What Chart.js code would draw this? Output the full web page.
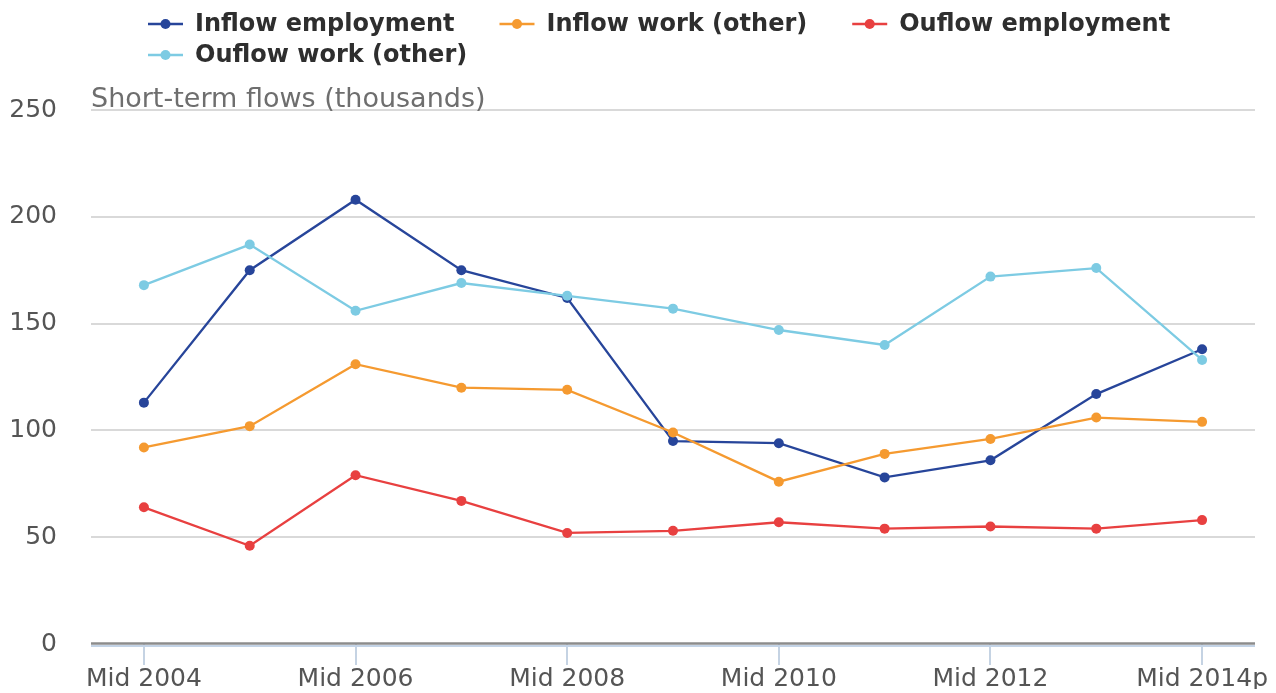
<!DOCTYPE html>
<html><head><meta charset="utf-8">
<script src="https://cdn.jsdelivr.net/npm/chart.js@4"></script>
<style>html,body{margin:0;padding:0;background:#fff;overflow:hidden;}</style>
</head><body>
<canvas id="c" width="1276" height="693"></canvas>
<script>
const categories = ['Mid 2004','Mid 2005','Mid 2006','Mid 2007','Mid 2008','Mid 2009','Mid 2010','Mid 2011','Mid 2012','Mid 2013','Mid 2014p'];
const inflowEmployment = [113,175,208,175,162,95,94,78,86,117,138];
const inflowWorkOther = [92,102,131,120,119,99,76,89,96,106,104];
const outflowEmployment = [64,46,79,67,52,53,57,54,55,54,58];
const outflowWorkOther = [168,187,156,169,163,157,147,140,172,176,133];
const seriesNames = ['Inflow employment','Inflow work (other)','Ouflow employment','Ouflow work (other)'];
const seriesColors = ['#27459a','#f59a30','#e84040','#7dcbe3'];
const yTicks = [0,50,100,150,200,250];
const yTitle = 'Short-term flows (thousands)';

const FONT = '"DejaVu Sans", sans-serif';

const legendPlugin = {
  id: 'customLegend',
  afterDraw(chart) {
    const ctx = chart.ctx;
    ctx.save();
    ctx.font = 'bold 24px ' + FONT;
    ctx.textBaseline = 'middle';
    const startX = 148, rowH = 31;
    let x = startX, y = 24;
    chart.data.datasets.forEach(ds => {
      const tw = ctx.measureText(ds.label).width;
      const w = 35 + 13 + tw;
      if (x > startX && x + w > chart.width - 10) { x = startX; y += rowH; }
      ctx.strokeStyle = ds.borderColor;
      ctx.lineWidth = 2.5;
      ctx.beginPath(); ctx.moveTo(x, y); ctx.lineTo(x + 35, y); ctx.stroke();
      ctx.fillStyle = ds.borderColor;
      ctx.beginPath(); ctx.arc(x + 17.5, y, 5, 0, Math.PI * 2); ctx.fill();
      ctx.fillStyle = '#2e2e2e';
      ctx.fillText(ds.label, x + 47, y + 1);
      x += w + 44;
    });
    ctx.restore();
  }
};

const axisPlugin = {
  id: 'axisDecor',
  beforeDatasetsDraw(chart) {
    const ctx = chart.ctx, a = chart.chartArea;
    const y0 = chart.scales.y.getPixelForValue(0);
    ctx.save();
    ctx.strokeStyle = '#c3d3e6'; ctx.lineWidth = 2;
    ctx.beginPath(); ctx.moveTo(a.left, y0 + 2); ctx.lineTo(a.right, y0 + 2); ctx.stroke();
    ctx.strokeStyle = '#8c8c8c'; ctx.lineWidth = 2.5;
    ctx.beginPath(); ctx.moveTo(a.left, y0 - 0.5); ctx.lineTo(a.right, y0 - 0.5); ctx.stroke();
    ctx.font = '27px ' + FONT;
    ctx.fillStyle = '#6e6e6e';
    ctx.textBaseline = 'alphabetic';
    ctx.textAlign = 'left';
    ctx.fillText(yTitle, a.left, a.top - 3);
    ctx.restore();
  }
};

const seriesData = [inflowEmployment, inflowWorkOther, outflowEmployment, outflowWorkOther];

new Chart(document.getElementById('c'), {
  type: 'line',
  data: {
    labels: categories,
    datasets: seriesData.map((d, i) => ({
      label: seriesNames[i],
      data: d,
      borderColor: seriesColors[i],
      backgroundColor: seriesColors[i],
      pointBackgroundColor: seriesColors[i],
      pointBorderWidth: 0,
      pointRadius: 5,
      borderWidth: 2.3,
      tension: 0,
      fill: false,
      order: 3 - i
    }))
  },
  options: {
    responsive: false,
    animation: false,
    layout: { padding: { top: 110, left: 10, right: 21, bottom: 0 } },
    plugins: { legend: { display: false }, tooltip: { enabled: false } },
    scales: {
      x: {
        offset: true,
        afterFit: s => { s.height = 45; },
        border: { display: false },
        grid: { drawOnChartArea: false, drawTicks: true, tickLength: 21, color: '#c5d3e3', lineWidth: 2, offset: false },
        ticks: {
          autoSkip: false, maxRotation: 0, padding: 2,
          color: '#555555',
          font: { family: FONT, size: 25, lineHeight: 1 },
          callback: (v, i) => (i % 2 === 0 ? categories[i] : null)
        }
      },
      y: {
        min: 0, max: 250,
        afterFit: s => { s.width = 81; },
        afterBuildTicks: s => { s.ticks = yTicks.map(v => ({ value: v })); },
        border: { display: false },
        grid: {
          drawTicks: false, lineWidth: 2,
          color: c => (c.tick && c.tick.value === 0 ? 'rgba(0,0,0,0)' : '#d9d9d9')
        },
        ticks: { padding: 34, color: '#555555', font: { family: FONT, size: 25 } }
      }
    }
  },
  plugins: [legendPlugin, axisPlugin]
});
</script>
</body></html>
